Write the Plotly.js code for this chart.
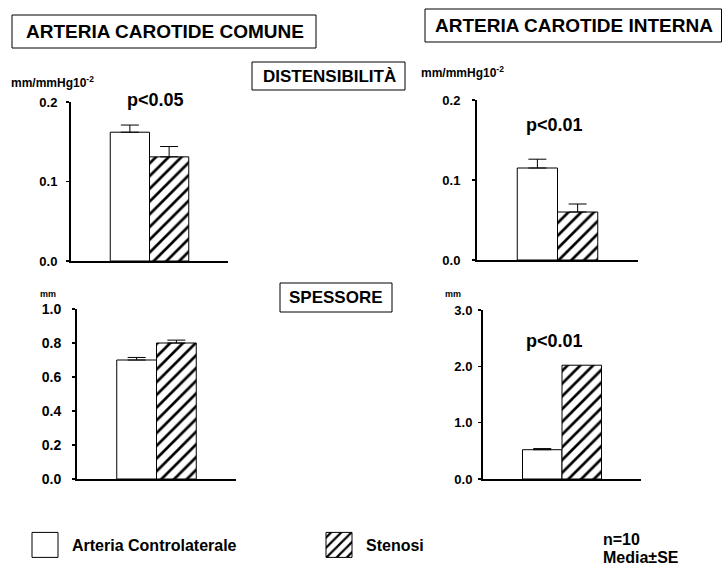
<!DOCTYPE html>
<html>
<head>
<meta charset="utf-8">
<script src="https://cdn.plot.ly/plotly-3.0.1.min.js"></script>
<style>html,body{margin:0;padding:0;background:#fff;}#chart{width:722px;height:568px;}</style>
</head>
<body>
<div id="chart"></div>
<script>
// ---- data ----
const seriesNames = ['Arteria Controlaterale', 'Stenosi'];
const panelCategory = ['Carotide'];
const distComune = [0.162, 0.131];
const distComuneSE = [0.009, 0.013];
const distInterna = [0.115, 0.060];
const distInternaSE = [0.011, 0.010];
const spesComune = [0.70, 0.80];
const spesComuneSE = [0.015, 0.017];
const spesInterna = [0.52, 2.02];
const spesInternaSE = [0.02, 0.0];
const yTicksDist = [0, 0.1, 0.2];
const yTicksSpesComune = [0, 0.2, 0.4, 0.6, 0.8, 1.0];
const yTicksSpesInterna = [0, 1, 2, 3];

// ---- layout helpers ----
const W = 722, H = 568;
const X = px => px / W;
const Y = py => 1 - py / H;
const FONT = 'Liberation Sans, Arial, Helvetica, sans-serif';

const styles = [
  {color: 'white', line: {color: 'black', width: 1}},
  {color: 'white', line: {color: 'black', width: 1},
   pattern: {shape: '/', fgcolor: 'black', bgcolor: 'white', size: 9, solidity: 0.3}}
];

function makeTraces(values, se, xa, ya, showLegend) {
  return values.map((v, i) => ({
    type: 'bar',
    name: seriesNames[i],
    x: panelCategory,
    y: [v],
    xaxis: xa, yaxis: ya,
    marker: styles[i],
    showlegend: showLegend,
    legendgroup: seriesNames[i],
    error_y: {type: 'data', symmetric: false, array: [se[i]], arrayminus: [0],
              color: 'black', thickness: 1, width: 9, visible: se[i] > 0},
    hoverinfo: 'skip'
  }));
}

const traces = [
  ...makeTraces(distComune, distComuneSE, 'x', 'y', true),
  ...makeTraces(distInterna, distInternaSE, 'x2', 'y2', false),
  ...makeTraces(spesComune, spesComuneSE, 'x3', 'y3', false),
  ...makeTraces(spesInterna, spesInternaSE, 'x4', 'y4', false)
];

function xAx(l, r, anchor) {
  return {domain: [X(l), X(r)], anchor: anchor, type: 'category', range: [-0.5, 0.5],
          showline: true, linewidth: 2, linecolor: 'black', showticklabels: false,
          ticks: '', showgrid: false, zeroline: false, fixedrange: true};
}
function yAx(bottom, top, range, ticks, anchor, standoff, size) {
  return {domain: [Y(bottom), Y(top)], anchor: anchor, range: range,
          tickvals: ticks, tickformat: '.1f', ticks: 'outside', ticklen: 3, tickwidth: 1.5,
          tickcolor: 'black', ticklabelstandoff: standoff,
          showline: true, linewidth: 2, linecolor: 'black', showgrid: false, zeroline: false,
          tickfont: {size: size}, fixedrange: true};
}

const boxLine = {color: 'black', width: 1};
const shapes = [
  {type: 'rect', xref: 'paper', yref: 'paper', x0: X(12), x1: X(316), y0: Y(48), y1: Y(15), line: boxLine},
  {type: 'rect', xref: 'paper', yref: 'paper', x0: X(425), x1: X(721.5), y0: Y(42), y1: Y(9), line: boxLine},
  {type: 'rect', xref: 'paper', yref: 'paper', x0: X(252), x1: X(405), y0: Y(90), y1: Y(62), line: boxLine},
  {type: 'rect', xref: 'paper', yref: 'paper', x0: X(280), x1: X(392), y0: Y(312), y1: Y(283), line: boxLine}
];

function ann(text, px, py, size, xanchor) {
  return {text: text, xref: 'paper', yref: 'paper', x: X(px), y: Y(py),
          xanchor: xanchor || 'center', yanchor: 'middle', showarrow: false,
          font: {size: size}};
}
const annotations = [
  ann('ARTERIA CAROTIDE COMUNE', 165, 31.5, 19),
  ann('ARTERIA CAROTIDE INTERNA', 573.5, 25.5, 19),
  ann('DISTENSIBILITÀ', 329, 76, 17),
  ann('SPESSORE', 336, 297.5, 17),
  ann('mm/mmHg10<sup>-2</sup>', 9, 82, 12, 'left'),
  ann('mm/mmHg10<sup>-2</sup>', 419, 72, 12, 'left'),
  ann('mm', 38, 294, 9, 'left'),
  ann('mm', 443, 294, 9, 'left'),
  ann('p&lt;0.05', 155, 100, 18),
  ann('p&lt;0.01', 554, 125, 18),
  ann('p&lt;0.01', 554, 341, 18),
  ann('n=10', 601, 539, 16, 'left'),
  ann('Media±SE', 601, 557, 16, 'left')
];

const layout = {
  width: W, height: H,
  margin: {l: 0, r: 0, t: 0, b: 0},
  paper_bgcolor: 'white', plot_bgcolor: 'white',
  font: {family: FONT, weight: 'bold', color: 'black', size: 12},
  barmode: 'group', bargap: 0.5, bargroupgap: 0,
  showlegend: true,
  legend: {orientation: 'h', x: X(18), y: Y(545), xanchor: 'left', yanchor: 'middle',
           font: {size: 16}, bgcolor: 'rgba(0,0,0,0)', borderwidth: 0,
           itemwidth: 44, entrywidth: 235, traceorder: 'normal'},
  xaxis: xAx(71, 228, 'y'),
  yaxis: yAx(261, 102, [0, 0.2], yTicksDist, 'x', 6, 13),
  xaxis2: xAx(477, 638, 'y2'),
  yaxis2: yAx(260, 100, [0, 0.2], yTicksDist, 'x2', 9, 13),
  xaxis3: xAx(77, 236, 'y3'),
  yaxis3: yAx(479, 309, [0, 1], yTicksSpesComune, 'x3', 8, 14),
  xaxis4: xAx(483, 641, 'y4'),
  yaxis4: yAx(479, 310, [0, 3], yTicksSpesInterna, 'x4', 3, 13),
  shapes: shapes,
  annotations: annotations
};

Plotly.newPlot('chart', traces, layout, {staticPlot: true, displayModeBar: false}).then(gd => {
  // enlarge the legend swatches to the size used in the reference
  gd.querySelectorAll('.legendpoints path').forEach(p => p.setAttribute('d', 'M13,12.5H-13V-12.5H13Z'));
});
</script>
</body>
</html>
